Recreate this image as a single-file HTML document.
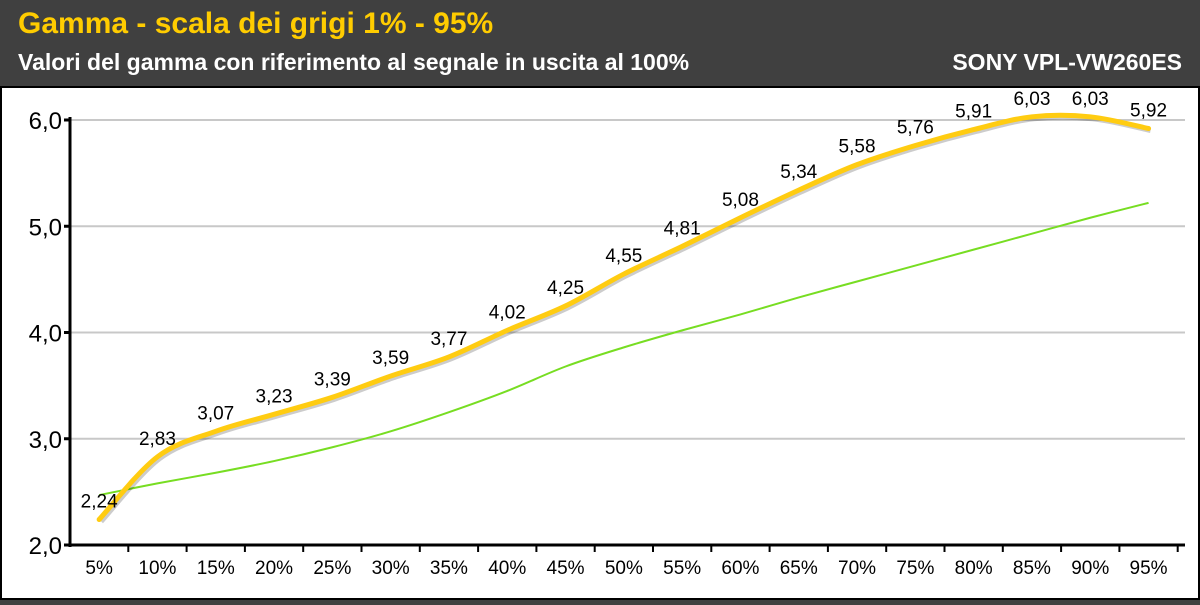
<!DOCTYPE html>
<html><head><meta charset="utf-8"><style>
body{margin:0;width:1200px;height:600px;overflow:hidden;background:#404040;font-family:"Liberation Sans",sans-serif}
</style></head><body>
<svg width="1200" height="600">
<rect x="0" y="0" width="1200" height="600" fill="#404040"/>
<text x="18" y="33" font-size="30" font-weight="bold" fill="#ffcc00">Gamma - scala dei grigi 1% - 95%</text>
<text x="18" y="70" font-size="23" font-weight="bold" fill="#fff">Valori del gamma con riferimento al segnale in uscita al 100%</text>
<text x="1182" y="70" font-size="23" font-weight="bold" fill="#fff" text-anchor="end">SONY VPL-VW260ES</text>
<rect x="1" y="87" width="1198" height="512" fill="#fff" stroke="#000" stroke-width="2"/>
<g id="chart"></g>
</svg>
<script>
const categories=["5%","10%","15%","20%","25%","30%","35%","40%","45%","50%","55%","60%","65%","70%","75%","80%","85%","90%","95%"];
const gammaValues=[2.24,2.83,3.07,3.23,3.39,3.59,3.77,4.02,4.25,4.55,4.81,5.08,5.34,5.58,5.76,5.91,6.03,6.03,5.92];
const gammaLabels=["2,24","2,83","3,07","3,23","3,39","3,59","3,77","4,02","4,25","4,55","4,81","5,08","5,34","5,58","5,76","5,91","6,03","6,03","5,92"];
const referenceValues=[2.47,2.58,2.68,2.79,2.92,3.07,3.25,3.45,3.68,3.86,4.02,4.17,4.33,4.48,4.63,4.78,4.93,5.08,5.22];
const yTicks=[2,3,4,5,6];
const yTickLabels=["2,0","3,0","4,0","5,0","6,0"];
const NS="http://www.w3.org/2000/svg";
const g=document.getElementById('chart');
const x0=70,step=58.3,yBase=545,pxU=106.25;
const xs=i=>x0+(i+0.5)*step;
const ys=v=>yBase-(v-2)*pxU;
function mk(t,a){const e=document.createElementNS(NS,t);for(const k in a)e.setAttribute(k,a[k]);g.appendChild(e);return e;}
yTicks.forEach((v,i)=>{
 if(v>2){const l=mk('line',{x1:x0,x2:1185,y1:ys(v),y2:ys(v),stroke:'#c8c8c8','stroke-width':2});
 
 }
 const tk=mk('line',{x1:x0-6,x2:x0,y1:ys(v),y2:ys(v),stroke:'#000','stroke-width':3});
 
 
 const t=mk('text',{x:x0-8,y:ys(v)+9,'font-size':24,'text-anchor':'end',fill:'#000'});
 t.textContent=yTickLabels[i];
 
 
});
const ya=mk('line',{x1:x0,x2:x0,y1:ys(6)-3,y2:yBase+2,stroke:'#000','stroke-width':3});


const xa=mk('line',{x1:x0-6,x2:1185,y1:yBase,y2:yBase,stroke:'#000','stroke-width':3});


categories.forEach((c,i)=>{
 const tk=mk('line',{x1:x0+(i+1)*step,x2:x0+(i+1)*step,y1:yBase,y2:yBase+7,stroke:'#000','stroke-width':2});
 
 
 const t=mk('text',{x:xs(i),y:574,'font-size':19,'text-anchor':'middle',fill:'#000'});
 t.textContent=c;
 
 
});
function path(vals){const p=vals.map((v,i)=>[xs(i),ys(v)]);let d='M'+p[0][0]+','+p[0][1];
 for(let i=0;i<p.length-1;i++){const a=p[Math.max(i-1,0)],b=p[i],c=p[i+1],e=p[Math.min(i+2,p.length-1)];
 d+=` C${b[0]+(c[0]-a[0])/6},${b[1]+(c[1]-a[1])/6} ${c[0]-(e[0]-b[0])/6},${c[1]-(e[1]-b[1])/6} ${c[0]},${c[1]}`;}return d;}
const rl=mk('path',{d:path(referenceValues),fill:'none',stroke:'#77dd22','stroke-width':2});


const sh=mk('path',{d:path(gammaValues),fill:'none',stroke:'rgba(0,0,0,0.2)','stroke-width':5,transform:'translate(2,2)'});


const gl=mk('path',{d:path(gammaValues),fill:'none',stroke:'#ffcc11','stroke-width':5,'stroke-linecap':'round'});


gammaValues.forEach((v,i)=>{
 const t=mk('text',{x:xs(i),y:ys(v)-12,'font-size':19,'text-anchor':'middle',fill:'#000'});
 t.textContent=gammaLabels[i];
 
 
});
</script>
</body></html>
